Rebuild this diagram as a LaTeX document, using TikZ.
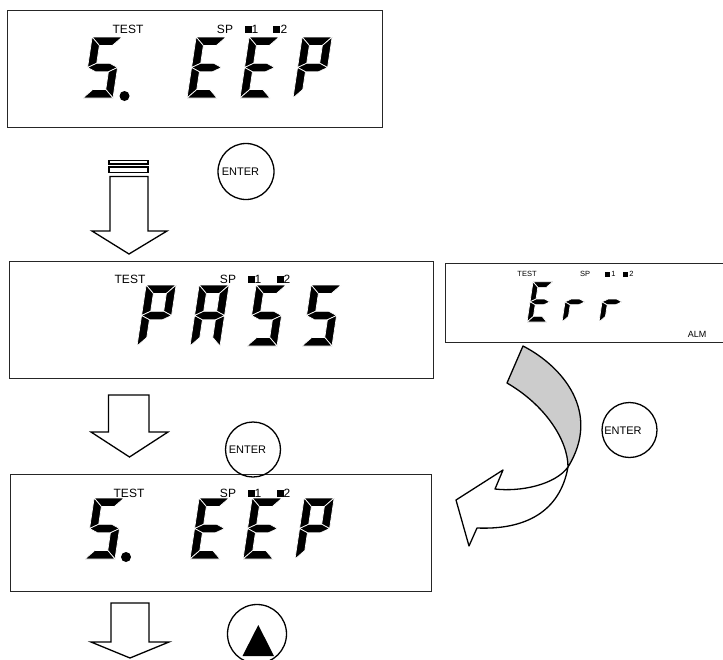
\documentclass[tikz,border=0pt]{standalone}
\usepackage{fontspec}
\setmainfont{Liberation Sans}
\tikzset{
  segment/.style={fill=black, draw=white, line width=0.7pt, line join=miter},
  sega/.pic={\path[segment] (0,61)--(30,61)--(21.5,52.5)--(8.5,52.5)--cycle;},
  segb/.pic={\path[segment] (30,61)--(30,30.5)--(21.5,34.75)--(21.5,52.5)--cycle;},
  segc/.pic={\path[segment] (30,30.5)--(30,0)--(21.5,8.5)--(21.5,26.25)--cycle;},
  segd/.pic={\path[segment] (0,0)--(30,0)--(21.5,8.5)--(8.5,8.5)--cycle;},
  sege/.pic={\path[segment] (0,0)--(0,30.5)--(8.5,26.25)--(8.5,8.5)--cycle;},
  segf/.pic={\path[segment] (0,30.5)--(0,61)--(8.5,52.5)--(8.5,34.75)--cycle;},
  segg/.pic={\path[segment] (0,30.5)--(8.5,34.75)--(21.5,34.75)--(30,30.5)--(21.5,26.25)--(8.5,26.25)--cycle;},
}
\newcommand\sevseg[4]{%
  \begin{scope}[shift={(#1,#2)},scale=#3,xslant=0.15,yscale=-1]
    \foreach \s in {#4} {\pic[transform shape] {seg\s};}
  \end{scope}}
\begin{document}
\begin{tikzpicture}[x=1pt,y=-1pt,
  box/.style={draw=black!85, line width=0.9pt, rectangle, inner sep=0pt, outer sep=0pt, anchor=north west},
  arr/.style={draw=black, line width=1.3pt, line join=miter, fill=white},
  btn/.style={circle, draw=black, line width=1.3pt, inner sep=0pt},
  lbl/.style={font=\fontsize{12}{12}\selectfont, inner sep=0pt, anchor=base},
  slbl/.style={font=\fontsize{7.5}{7.5}\selectfont, inner sep=0pt, anchor=base},
  entxt/.style={font=\fontsize{11}{11}\selectfont, inner sep=0pt},
  curv/.style={draw=black, line width=1.3pt, line join=round},
]
\useasboundingbox (0,0) rectangle (723,659);

% ---------- display boxes ----------
\node[box, minimum width=375, minimum height=117] (d1) at (7,10) {};
\node[box, minimum width=424, minimum height=117] (d2) at (9,261) {};
\node[box, minimum width=421, minimum height=117] (d3) at (10,474) {};
\node[box, minimum width=278, minimum height=79] (de) at (445,263) {};

% ---------- box 1 : 5. EEP ----------
\node[lbl] (t1) at (128,33) {TEST};
\node[lbl] (s1) at (225,33) {SP};
\fill (245,25.5) rectangle (252,32.5);
\node[lbl] (o1) at (255,33) {1};
\fill (273,25.5) rectangle (280,32.5);
\node[lbl] (w1) at (284,33) {2};
\sevseg{83}{98}{1}{a,f,g,c,d}
\fill (124.5,96) circle (5);
\sevseg{187}{98}{1}{a,f,g,e,d}
\sevseg{240}{98}{1}{a,f,g,e,d}
\sevseg{293}{98}{1}{a,b,f,g,e}

% ---------- box 2 : PASS ----------
\node[lbl] (t2) at (130,283.5) {TEST};
\node[lbl] (s2) at (228,283.5) {SP};
\fill (248,276) rectangle (255,283);
\node[lbl] (o2) at (258,283.5) {1};
\fill (277,276) rectangle (284,283);
\node[lbl] (w2) at (287,283.5) {2};
\sevseg{137}{346}{1}{a,b,f,g,e}
\sevseg{190}{346}{1}{a,b,c,e,f,g}
\sevseg{247}{346}{1}{a,f,g,c,d}
\sevseg{302}{346}{1}{a,f,g,c,d}

% ---------- box 3 : 5. EEP ----------
\node[lbl] (t3) at (129,497) {TEST};
\node[lbl] (s3) at (228,497) {SP};
\fill (248,489.5) rectangle (255,496.5);
\node[lbl] (o3) at (258,497) {1};
\fill (277,489.5) rectangle (284,496.5);
\node[lbl] (w3) at (287,497) {2};
\sevseg{85}{559}{1}{a,f,g,c,d}
\fill (126,557) circle (5);
\sevseg{190}{559}{1}{a,f,g,e,d}
\sevseg{243}{559}{1}{a,f,g,e,d}
\sevseg{295}{559}{1}{a,b,f,g,e}

% ---------- Err box ----------
\node[slbl] (te) at (527,276.7) {TEST};
\node[slbl] (se) at (585,276.7) {SP};
\fill (605,272) rectangle (610,277);
\node[slbl] (oe) at (613.5,276.7) {1};
\fill (623,272) rectangle (628,277);
\node[slbl] (we) at (631.5,276.7) {2};
\node[lbl, font=\fontsize{9}{9}\selectfont] (alm) at (697,337) {ALM};
\sevseg{527}{322}{0.66}{a,f,g,e,d}
\sevseg{562}{322}{0.66}{e,g}
\sevseg{599}{322}{0.66}{e,g}

% ---------- block arrows ----------
\draw[arr] (109,160.5) rectangle (148,164);
\draw[arr] (109,167) rectangle (148,172.5);
\draw[arr] (110,176.5) -- (110,231) -- (92,231) -- (129,254) -- (167,231) -- (148,231) -- (148,176.5) -- cycle;
\draw[arr] (108.5,395) -- (108.5,432) -- (91,432) -- (129.5,457) -- (168,432) -- (149,432) -- (149,395) -- cycle;
\draw[arr] (111,603) -- (111,642) -- (91,642) -- (130,658) -- (169,642) -- (149,642) -- (149,603) -- cycle;

% ---------- buttons ----------
\node[btn, minimum size=56] (b1) at (246,171.5) {};
\node[entxt] (b1t) at (240.5,172) {ENTER};
\node[btn, minimum size=55] (b2) at (253,449.5) {};
\node[entxt] (b2t) at (247.5,450) {ENTER};
\node[btn, minimum size=55] (b3) at (629.5,430) {};
\node[entxt] (b3t) at (623,431) {ENTER};
\node[btn, minimum size=59] (b4) at (257,634) {};
\fill (242.5,656) -- (274,656) -- (258.3,625) -- cycle;

% ---------- curved ribbon arrow ----------
\filldraw[curv, fill=black!20] (523,346) .. controls (562,366) and (602,412) .. (568,467)
   .. controls (568,440) and (545,405) .. (507,383) -- cycle;
\filldraw[curv, fill=white] (568,467) .. controls (555,485) and (520,492) .. (495,489)
   -- (503,470) -- (456,500) -- (469,546) -- (477,528)
   .. controls (525,530) and (560,512) .. (568,467) -- cycle;
\end{tikzpicture}
\end{document}
